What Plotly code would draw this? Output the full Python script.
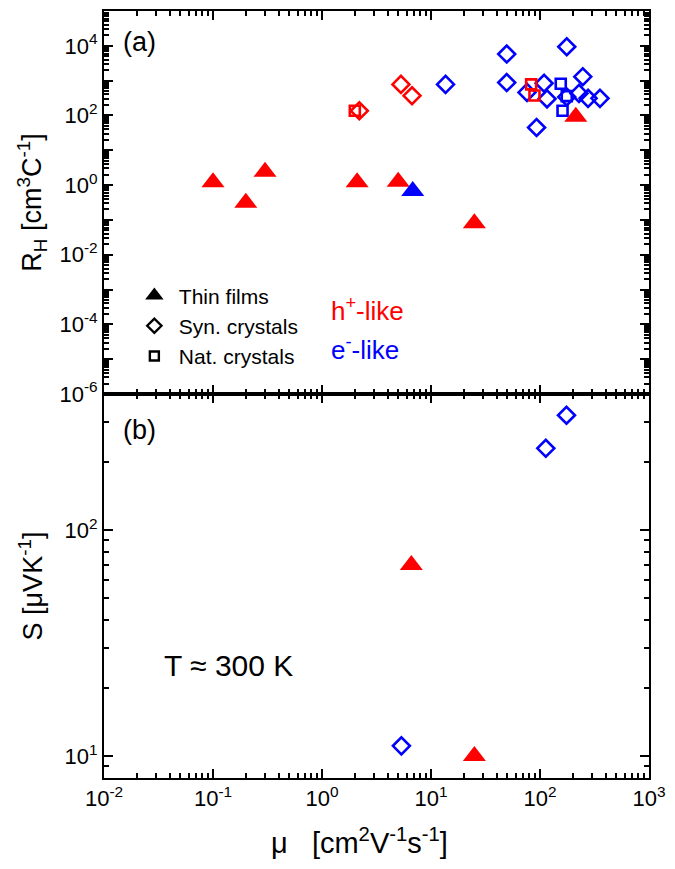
import plotly.graph_objects as go
import math

RED = "#FF0000"
BLUE = "#0000FF"
FONT = "Arial, Liberation Sans, sans-serif"

# ---------------- (a) Hall coefficient vs mobility ----------------
# Thin films, h+-like (red filled triangles)
tf_h_mu = [0.1, 0.2, 0.3, 2.1, 5.0, 25, 213]
tf_h_RH = [1.2, 0.31, 2.4, 1.2, 1.25, 0.08, 92]
# Thin films, e--like (blue filled triangle)
tf_e_mu = [6.8]
tf_e_RH = [0.68]
# Synthetic crystals, h+-like (red open diamonds)
sc_h_mu = [2.2, 5.3, 6.7]
sc_h_RH = [136, 780, 370]
# Synthetic crystals, e--like (blue open diamonds)
sc_e_mu = [13.6, 49.5, 49.5, 76, 109, 116, 93, 176, 247, 228, 176, 276, 355]
sc_e_RH = [780, 5800, 880, 460, 840, 300, 45, 9400, 1300, 430, 340, 310, 310]
# Natural crystals, h+-like (red open squares)
nc_h_mu = [2.0, 83, 89]
nc_h_RH = [136, 780, 375]
# Natural crystals, e--like (blue open squares)
nc_e_mu = [155, 176, 161]
nc_e_RH = [810, 360, 137]

# ---------------- (b) Seebeck coefficient vs mobility ----------------
tf_h_mu_S = [6.6, 25]
tf_h_S = [70, 10]
sc_e_mu_S = [5.35, 113, 175]
sc_e_S = [11.1, 230, 322]

# ---------------- ticks ----------------
x_exp = list(range(-2, 4))
yt_exp = list(range(-6, 6))
yb_exp = [1, 2]


def p10(e):
    return f"10<sup>{e}</sup>"


x_major = [10.0 ** e for e in x_exp]
x_text = [p10(e) for e in x_exp]
x_minor = [m * 10.0 ** e for e in range(-2, 3) for m in range(2, 10)]

yt_major = [10.0 ** e for e in yt_exp]
yt_text = [p10(e) if (e % 2 == 0 and e < 5) else "" for e in yt_exp]
yt_minor = [m * 10.0 ** e for e in range(-6, 5) for m in range(2, 10)]

yb_major = [10.0 ** e for e in yb_exp]
yb_text = [p10(e) for e in yb_exp]
yb_minor = [8, 9, 20, 30, 40, 50, 60, 70, 80, 90, 200, 300, 400]

fig = go.Figure()

tri = dict(symbol="triangle-up", size=20, line=dict(width=0))
dia = lambda c: dict(symbol="diamond-open", size=13, color=c, line=dict(width=2.6, color=c))
sqr = lambda c: dict(symbol="square-open", size=10, color=c, line=dict(width=2.6, color=c))

# top panel traces (x2, y2)
fig.add_trace(go.Scatter(x=sc_e_mu, y=sc_e_RH, mode="markers", marker=dia(BLUE),
                         xaxis="x2", yaxis="y2", showlegend=False))
fig.add_trace(go.Scatter(x=sc_h_mu, y=sc_h_RH, mode="markers", marker=dia(RED),
                         xaxis="x2", yaxis="y2", showlegend=False))
fig.add_trace(go.Scatter(x=nc_e_mu, y=nc_e_RH, mode="markers", marker=sqr(BLUE),
                         xaxis="x2", yaxis="y2", showlegend=False))
fig.add_trace(go.Scatter(x=nc_h_mu, y=nc_h_RH, mode="markers", marker=sqr(RED),
                         xaxis="x2", yaxis="y2", showlegend=False))
fig.add_trace(go.Scatter(x=tf_h_mu, y=tf_h_RH, mode="markers", marker=dict(tri, color=RED),
                         xaxis="x2", yaxis="y2", showlegend=False))
fig.add_trace(go.Scatter(x=tf_e_mu, y=tf_e_RH, mode="markers", marker=dict(tri, color=BLUE),
                         xaxis="x2", yaxis="y2", showlegend=False))

# bottom panel traces
fig.add_trace(go.Scatter(x=sc_e_mu_S, y=sc_e_S, mode="markers", marker=dia(BLUE),
                         showlegend=False))
fig.add_trace(go.Scatter(x=tf_h_mu_S, y=tf_h_S, mode="markers", marker=dict(tri, color=RED),
                         showlegend=False))

# legend entries (black symbols)
fig.add_trace(go.Scatter(x=[None], y=[None], mode="markers", name="Thin films",
                         marker=dict(symbol="triangle-up", size=20, color="black"),
                         xaxis="x2", yaxis="y2"))
fig.add_trace(go.Scatter(x=[None], y=[None], mode="markers", name="Syn. crystals",
                         marker=dict(symbol="diamond-open", size=11, color="black",
                                     line=dict(width=2.4, color="black")),
                         xaxis="x2", yaxis="y2"))
fig.add_trace(go.Scatter(x=[None], y=[None], mode="markers", name="Nat. crystals",
                         marker=dict(symbol="square-open", size=9, color="black",
                                     line=dict(width=2.4, color="black")),
                         xaxis="x2", yaxis="y2"))

split = 385 / 769


def axis_style(**kw):
    d = dict(type="log", showline=True, linecolor="black", linewidth=2,
             mirror="ticks", ticks="inside", ticklen=9, tickwidth=1.5, tickcolor="black",
             showgrid=False, zeroline=False,
             tickfont=dict(size=22, family=FONT, color="black"))
    d.update(kw)
    return d


minor_style = dict(ticks="inside", ticklen=5, tickwidth=1.5, tickcolor="black", showgrid=False)

fig.update_layout(
    width=675, height=869,
    margin=dict(l=104, r=23, t=9, b=91),
    paper_bgcolor="white", plot_bgcolor="white",
    font=dict(family=FONT, color="black"),
    xaxis=axis_style(range=[-2, 3], domain=[0, 1], anchor="y",
                     tickmode="array", tickvals=x_major, ticktext=x_text,
                     minor=dict(minor_style, tickmode="array", tickvals=x_minor)),
    xaxis2=axis_style(range=[-2, 3], domain=[0, 1], anchor="y2", matches="x",
                      tickmode="array", tickvals=x_major, ticktext=x_text,
                      showticklabels=False,
                      minor=dict(minor_style, tickmode="array", tickvals=x_minor)),
    yaxis=axis_style(range=[math.log10(8), math.log10(400)], domain=[0, split], anchor="x",
                     tickmode="array", tickvals=yb_major, ticktext=yb_text,
                     minor=dict(minor_style, tickmode="array", tickvals=yb_minor),
                     title=dict(text="S [μVK<sup>-1</sup>]",
                                font=dict(size=27, family=FONT), standoff=14)),
    yaxis2=axis_style(range=[-6, 5], domain=[split, 1], anchor="x2",
                      tickmode="array", tickvals=yt_major, ticktext=yt_text,
                      minor=dict(minor_style, tickmode="array", tickvals=yt_minor),
                      title=dict(text="R<sub>H</sub> [cm<sup>3</sup>C<sup>-1</sup>]",
                                 font=dict(size=27, family=FONT), standoff=10)),
    legend=dict(x=(130 - 104) / 548, y=1 - (274 - 9) / 769, xanchor="left", yanchor="top",
                bgcolor="rgba(0,0,0,0)", borderwidth=0,
                font=dict(size=21, family=FONT, color="black"),
                itemsizing="trace", itemwidth=39, tracegroupgap=0),
    annotations=[
        dict(text="μ   [cm<sup>2</sup>V<sup>-1</sup>s<sup>-1</sup>]", x=(361 - 104) / 548,
             y=-(841 - 778) / 769, xref="paper", yref="paper",
             xanchor="center", yanchor="middle", showarrow=False,
             font=dict(size=29, family=FONT, color="black")),
        dict(text="(a)", x=(121 - 104) / 548, y=1 - (40 - 9) / 769, xref="paper", yref="paper",
             xanchor="left", yanchor="middle", showarrow=False,
             font=dict(size=27, family=FONT, color="black")),
        dict(text="(b)", x=(121 - 104) / 548, y=1 - (429 - 9) / 769, xref="paper", yref="paper",
             xanchor="left", yanchor="middle", showarrow=False,
             font=dict(size=27, family=FONT, color="black")),
        dict(text="T ≈ 300 K", x=(162 - 104) / 548, y=1 - (665 - 9) / 769, xref="paper",
             yref="paper", xanchor="left", yanchor="middle", showarrow=False,
             font=dict(size=30, family=FONT, color="black")),
        dict(text="h<sup>+</sup>-like", x=(330 - 104) / 548, y=1 - (308 - 9) / 769,
             xref="paper", yref="paper", xanchor="left", yanchor="middle", showarrow=False,
             font=dict(size=26, family=FONT, color=RED)),
        dict(text="e<sup>-</sup>-like", x=(330 - 104) / 548, y=1 - (347 - 9) / 769,
             xref="paper", yref="paper", xanchor="left", yanchor="middle", showarrow=False,
             font=dict(size=26, family=FONT, color=BLUE)),
    ],
)

fig.write_html("out.html", config={"displayModeBar": False},
               post_script="document.body.style.margin='0px';")
